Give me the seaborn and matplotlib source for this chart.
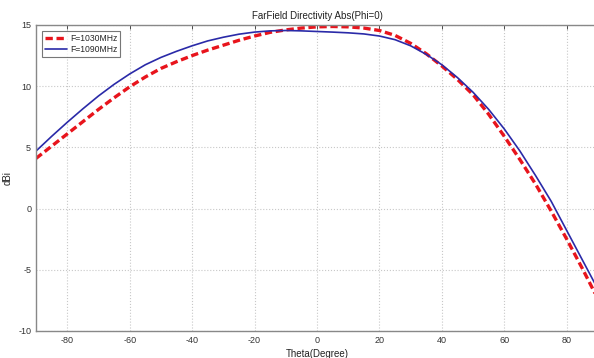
import numpy as np
import pandas as pd
import matplotlib
matplotlib.use("Agg")
import matplotlib.pyplot as plt
import seaborn as sns

theta = [-90, -85, -80, -75, -70, -65, -60, -55, -50, -45, -40, -35, -30, -25,
         -20, -15, -10, -5, 0, 5, 10, 15, 20, 25, 30, 35, 40, 45, 50, 55, 60,
         65, 70, 75, 80, 85, 90]
f1030 = [4.1, 5.1, 6.1, 7.1, 8.1, 9.05, 9.95, 10.75, 11.45, 12.0, 12.5, 12.95,
         13.35, 13.75, 14.1, 14.4, 14.6, 14.75, 14.85, 14.88, 14.85, 14.75, 14.55,
         14.15, 13.5, 12.65, 11.65, 10.55, 9.3, 7.7, 5.9, 4.0, 2.0, -0.2, -2.5,
         -4.9, -7.4]
f1090 = [4.7, 5.9, 7.05, 8.15, 9.2, 10.15, 11.0, 11.75, 12.35, 12.85, 13.3, 13.7,
         14.0, 14.25, 14.42, 14.52, 14.55, 14.52, 14.47, 14.42, 14.36, 14.27, 14.1,
         13.8, 13.3, 12.6, 11.75, 10.7, 9.5, 8.1, 6.5, 4.7, 2.7, 0.6, -1.8, -4.2,
         -6.6]
labels = ["F=1030MHz", "F=1090MHz"]
xticks = [-80, -60, -40, -20, 0, 20, 40, 60, 80]
yticks = [-10, -5, 0, 5, 10, 15]

df = pd.DataFrame({
    "theta": theta * 2,
    "dBi": f1030 + f1090,
    "freq": [labels[0]] * len(theta) + [labels[1]] * len(theta),
})

sns.set_style("white")
plt.rcParams["font.family"] = ["Liberation Sans", "DejaVu Sans"]
plt.rcParams["axes.unicode_minus"] = False

fig = plt.figure(figsize=(5.94, 3.58), dpi=100)
ax = fig.add_axes([36 / 594, 27 / 358, 562 / 594, 306 / 358])

sns.lineplot(data=df, x="theta", y="dBi", hue="freq", style="freq",
             palette={labels[0]: "#e8141c", labels[1]: "#2a2aa8"},
             dashes={labels[0]: (2.2, 1.1), labels[1]: ""},
             ax=ax, legend=True)
lines = ax.get_lines()
lines[0].set_linewidth(2.4)
lines[1].set_linewidth(1.2)

ax.set_xlim(-90, 90)
ax.set_ylim(-10, 15)
ax.set_xticks(xticks)
ax.set_yticks(yticks)
ax.grid(True, color="#c8c8c8", linestyle=":", linewidth=0.8)
ax.tick_params(direction="in", length=3, labelsize=6.5, colors="#333333",
               top=True, right=True, width=0.6)
for s in ax.spines.values():
    s.set_color("#888888")
    s.set_linewidth(1.0)

ax.set_title("FarField Directivity Abs(Phi=0)", fontsize=7, color="#222222", pad=4)
ax.set_xlabel("Theta(Degree)", fontsize=7, color="#222222", labelpad=3)
ax.set_ylabel("dBi", fontsize=7, color="#222222", labelpad=4)

handles, _ = ax.get_legend_handles_labels()
handles[0].set_linewidth(2.4)
handles[1].set_linewidth(1.2)
leg = ax.legend(handles, labels, loc="upper left", fontsize=6.2, frameon=True,
                fancybox=False, edgecolor="#555555", handlelength=2.6,
                borderpad=0.35, labelspacing=0.25, handletextpad=0.3,
                bbox_to_anchor=(0.003, 0.995))
leg.get_frame().set_linewidth(0.8)

fig.savefig("out.png", dpi=100)
